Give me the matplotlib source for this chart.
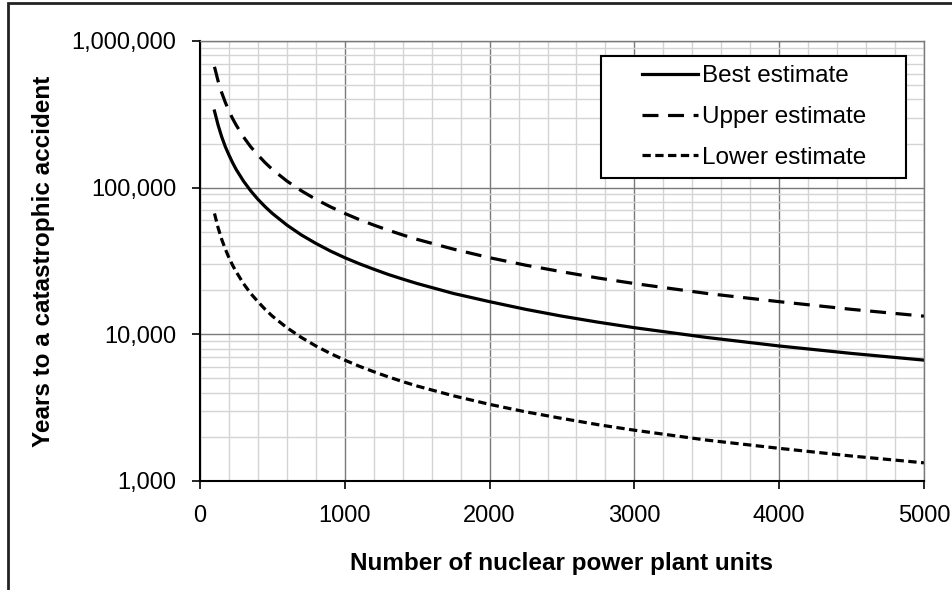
import matplotlib
matplotlib.use("Agg")
import numpy as np
import matplotlib.pyplot as plt
from matplotlib.ticker import FixedLocator, FuncFormatter, MultipleLocator, LogLocator, NullFormatter
from matplotlib.patches import Rectangle
from matplotlib.legend_handler import HandlerLine2D

plt.rcParams['font.family'] = ['Liberation Sans', 'DejaVu Sans']

units = [100, 125, 150, 175, 200, 225, 250, 300, 350, 400, 450, 500, 600, 700, 800, 900,
         1000, 1100, 1200, 1300, 1400, 1500, 1750, 2000, 2250, 2500, 2750, 3000,
         3500, 4000, 4500, 5000]
best = [333000, 267000, 222000, 190000, 167000, 148000, 133000, 111000, 95200, 83300,
        74100, 66700, 55600, 47600, 41700, 37000, 33300, 30300, 27800, 25600, 23800,
        22200, 19000, 16700, 14800, 13300, 12100, 11100, 9520, 8330, 7410, 6670]
upper = [667000, 533000, 444000, 381000, 333000, 296000, 267000, 222000, 190000, 167000,
         148000, 133000, 111000, 95200, 83300, 74100, 66700, 60600, 55600, 51300, 47600,
         44400, 38100, 33300, 29600, 26700, 24200, 22200, 19000, 16700, 14800, 13300]
lower = [66700, 53300, 44400, 38100, 33300, 29600, 26700, 22200, 19000, 16700,
         14800, 13300, 11100, 9520, 8330, 7410, 6670, 6060, 5560, 5130, 4760,
         4440, 3810, 3330, 2960, 2670, 2420, 2220, 1900, 1670, 1480, 1330]
series_labels = ['Best estimate', 'Upper estimate', 'Lower estimate']
x_ticks = [0, 1000, 2000, 3000, 4000, 5000]
y_ticks = [1000, 10000, 100000, 1000000]


class RightHandler(HandlerLine2D):
    def get_xdata(self, legend, xdescent, ydescent, width, height, fontsize):
        xdata, xdata_marker = super().get_xdata(legend, xdescent, ydescent, width, height, fontsize)
        x0, x1 = xdata[0], xdata[-1]
        return np.array([x0 + 0.36 * (x1 - x0), x1]), xdata_marker


W, H = 952, 590
fig = plt.figure(figsize=(W / 100, H / 100), dpi=100)
ax = fig.add_axes([200 / W, 1 - 481 / H, 724 / W, 440 / H])

ax.set_yscale('log')
ax.set_xlim(0, 5000)
ax.set_ylim(1000, 1000000)

l1, = ax.plot(units, best, color='black', lw=2.3, ls='-', label=series_labels[0])
l2, = ax.plot(units, upper, color='black', lw=2.3, ls=(0, (5, 3)), label=series_labels[1])
l3, = ax.plot(units, lower, color='black', lw=2.3, ls=(0, (2.6, 1.4)), label=series_labels[2])

ax.xaxis.set_major_locator(FixedLocator(x_ticks))
ax.xaxis.set_minor_locator(MultipleLocator(200))
ax.yaxis.set_major_locator(FixedLocator(y_ticks))
ax.yaxis.set_minor_locator(LogLocator(base=10, subs=range(2, 10)))
ax.yaxis.set_minor_formatter(NullFormatter())
ax.yaxis.set_major_formatter(FuncFormatter(lambda v, p: f'{int(round(v)):,}'))

ax.grid(which='major', color='#7a7a7a', lw=1.0)
ax.grid(which='minor', color='#d4d4d4', lw=1.0)
ax.set_axisbelow(True)

for s in ['top', 'right']:
    ax.spines[s].set_color('#7a7a7a')
    ax.spines[s].set_linewidth(1.0)
for s in ['left', 'bottom']:
    ax.spines[s].set_color('black')
    ax.spines[s].set_linewidth(1.5)

ax.tick_params(which='major', direction='out', length=6, width=1.2, labelsize=17)
ax.tick_params(axis='x', which='major', pad=11)
ax.tick_params(axis='y', which='major', pad=11)
ax.tick_params(which='minor', length=0)

ax.set_xlabel('Number of nuclear power plant units', fontsize=17.5, fontweight='bold', labelpad=18)
ax.set_ylabel('Years to a catastrophic accident', fontsize=17.5, fontweight='bold', labelpad=12)

leg = ax.legend(handles=[l1, l2, l3], loc='upper left',
                bbox_to_anchor=(401 / 724, 0.5, 305 / 724, (481 - 56) / 440 - 0.5),
                mode='expand', fontsize=17.5,
                frameon=True, fancybox=False, edgecolor='black', framealpha=1,
                handlelength=3.6, handletextpad=0.15, borderpad=0.39, labelspacing=0.77,
                borderaxespad=0, handler_map={matplotlib.lines.Line2D: RightHandler()})
leg.get_frame().set_linewidth(1.5)

fig.patches.append(Rectangle((8 / W, -0.1), 1.2, 1 - 3 / H + 0.1, transform=fig.transFigure,
                             fill=False, edgecolor='#222222', lw=2.0))

fig.savefig('out.png', dpi=100)
